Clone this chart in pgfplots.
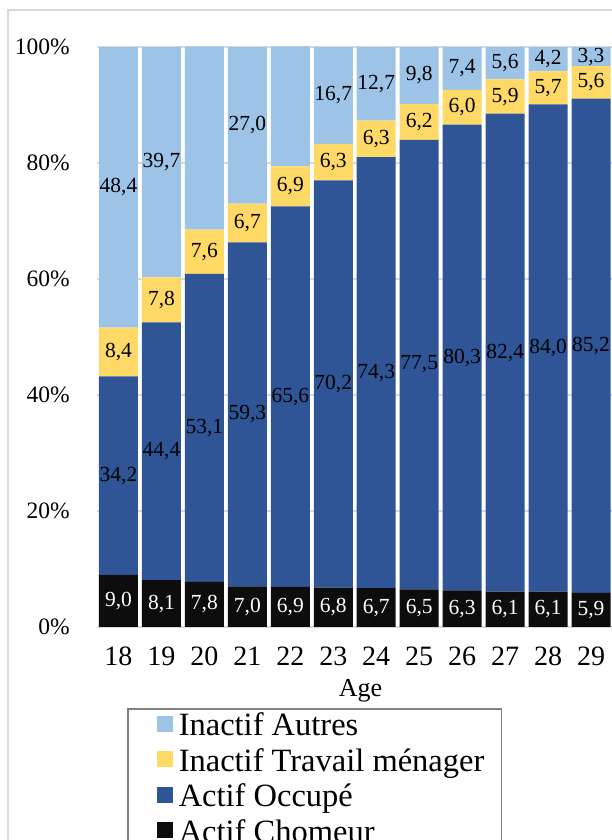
\documentclass[border=0pt]{standalone}
\usepackage{fontspec}
\setmainfont{Liberation Serif}
\usepackage{pgfplots}
\usepackage{pgfplotstable}
\pgfplotsset{compat=1.18}
\definecolor{cAutres}{HTML}{9DC3E6}
\definecolor{cMenage}{HTML}{FFD966}
\definecolor{cOccupe}{HTML}{2F5597}
\definecolor{cChom}{HTML}{0D0D0D}
\definecolor{gridc}{HTML}{D9D9D9}
\definecolor{legc}{HTML}{808080}

\pgfplotstableread{
x v
18 9.0
19 8.1
20 7.8
21 7.0
22 6.9
23 6.8
24 6.7
25 6.5
26 6.3
27 6.1
28 6.1
29 5.9
}\chom
\pgfplotstableread{
x v
18 34.2
19 44.4
20 53.1
21 59.3
22 65.6
23 70.2
24 74.3
25 77.5
26 80.3
27 82.4
28 84.0
29 85.2
}\occupe
\pgfplotstableread{
x v
18 8.4
19 7.8
20 7.6
21 6.7
22 6.9
23 6.3
24 6.3
25 6.2
26 6.0
27 5.9
28 5.7
29 5.6
}\menage
\pgfplotstableread{
x v
18 48.4
19 39.7
20 31.6
21 27.0
22 20.7
23 16.7
24 12.7
25 9.8
26 7.4
27 5.6
28 4.2
29 3.3
}\autres

\begin{document}
\begin{tikzpicture}[x=1pt,y=1pt]
\useasboundingbox (0,0) rectangle (611,840);
\draw[gridc, line width=2pt] (8,-50) -- (8,830) -- (700,830);
\begin{axis}[
  at={(97pt,213pt)}, anchor=south west,
  scale only axis, width=515.5pt, height=580pt,
  ybar stacked, bar width=39pt,
  xmin=17.5, xmax=29.5, ymin=0, ymax=100,
  xtick={18,...,29}, ytick={0,20,...,100},
  /pgf/number format/assume math mode=true,
  yticklabel={\pgfmathprintnumber{\tick}\%},
  major tick length=0pt,
  axis line style={draw=none},
  ymajorgrids, grid style={gridc, line width=1.5pt},
  yticklabel style={font=\fontsize{23.5}{23.5}\selectfont, inner sep=0pt, anchor=east, xshift=-27pt},
  xticklabel style={font=\fontsize{28}{28}\selectfont, inner sep=0pt, anchor=north, yshift=-19.7pt},
  xlabel={Age},
  xlabel style={font=\fontsize{26}{26}\selectfont, at={(axis description cs:0.511,0)}, anchor=base, inner sep=0pt, yshift=-69.7pt},
  visualization depends on={rawy \as \segv},
  nodes near coords={\pgfmathprintnumber[fixed,fixed zerofill,precision=1,use comma]{\segv}},
  nodes near coords align=center,
  every node near coord/.style={font=\fontsize{21.5}{21.5}\selectfont, anchor=center, inner sep=0pt, text=black},
  reverse legend,
  legend cell align=left,
  legend style={at={(axis description cs:0.0582,-0.1397)}, anchor=north west, draw=legc, line width=1.5pt, font=\fontsize{32.5}{32.5}\selectfont, inner xsep=17pt, inner ysep=0pt, column sep=6pt, row sep=0pt, nodes={inner sep=0pt, text height=27pt, text depth=8.5pt}},
  legend image code/.code={\path[draw=none,fill=none] (-12pt,0pt) -- (0pt,0pt); \fill[#1] (0pt,-5pt) rectangle (16pt,11pt);},
]
\addplot[fill=cChom, draw=none, every node near coord/.append style={text=white}] table[x=x,y=v] {\chom};
\addlegendentry{Actif Chomeur}
\addplot[fill=cOccupe, draw=none] table[x=x,y=v] {\occupe};
\addlegendentry{Actif Occupé}
\addplot[fill=cMenage, draw=none] table[x=x,y=v] {\menage};
\addlegendentry{Inactif Travail ménager}
\addplot[fill=cAutres, draw=none] table[x=x,y=v] {\autres};
\addlegendentry{Inactif Autres}
\end{axis}
\end{tikzpicture}
\end{document}
